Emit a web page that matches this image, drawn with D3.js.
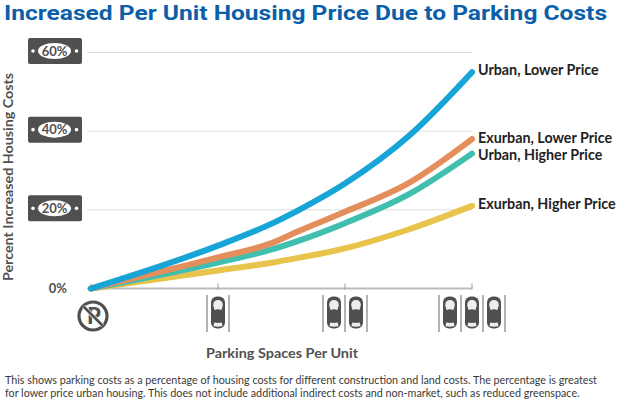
<!DOCTYPE html>
<html><head><meta charset="utf-8">
<script src="https://cdn.jsdelivr.net/npm/d3@7"></script>
<style>html,body{margin:0;padding:0;background:#fff}svg{display:block}text{font-family:Lato,sans-serif}</style>
</head><body><svg id="c" width="618" height="402"></svg>
<script>
const spaces=[0,1,1.41,1.65,2,2.5,3];
const urbanLower=[0,10.9,16.3,20.2,26.7,38.7,55];
const exurbanLower=[0,7.9,11.4,14.8,19.5,26.8,38];
const urbanHigher=[0,6.6,9.8,12.3,16.6,23.9,34.3];
const exurbanHigher=[0,4.6,6.5,7.9,10.2,15,21];
const seriesNames=["Exurban, Higher Price","Urban, Higher Price","Exurban, Lower Price","Urban, Lower Price"];
const seriesValues=[exurbanHigher,urbanHigher,exurbanLower,urbanLower];
const seriesColors=["#e9c44c","#41bfae","#e48f5b","#17a4d6"];
const yTicks=[20,40,60];
const xTicks=[0,1,2,3];
const title="Increased Per Unit Housing Price Due to Parking Costs";
const xTitle="Parking Spaces Per Unit";
const yTitle="Percent Increased Housing Costs";
const note=["This shows parking costs as a percentage of housing costs for different construction and land costs. The percentage is greatest","for lower price urban housing. This does not include additional indirect costs and non-market, such as reduced greenspace."];

const svg=d3.select("#c");
const x=d3.scaleLinear().domain([0,3]).range([91,472]);
const y=d3.scaleLinear().domain([0,60]).range([288.5,52.5]);
const dark="#505050";

function fit(sel,target){
  const n=sel.node(), fs=parseFloat(sel.attr("font-size"));
  sel.attr("font-size",fs*target/n.getComputedTextLength());
  return sel;
}

svg.append("text").attr("x",4).attr("y",19.5).attr("font-size",20.5).attr("font-weight",700)
  .attr("textLength",603).attr("lengthAdjust","spacingAndGlyphs")
  .style("font-family","Roboto,sans-serif").attr("fill","#0b5fa8").text(title);

svg.append("g").selectAll("line").data(yTicks).join("line")
  .attr("x1",87).attr("x2",x(3)).attr("y1",d=>y(d)).attr("y2",d=>y(d)).attr("stroke","#dedede").attr("stroke-width",1);

svg.append("line").attr("x1",87).attr("x2",x(3)).attr("y1",y(0)).attr("y2",y(0)).attr("stroke","#bdbdbd").attr("stroke-width",2);
svg.append("g").selectAll("line").data(xTicks).join("line")
  .attr("x1",d=>x(d)).attr("x2",d=>x(d)).attr("y1",y(0)-5).attr("y2",y(0)+1).attr("stroke","#9a9a9a").attr("stroke-width",1);

const tag=svg.append("g").selectAll("g").data(yTicks).join("g").attr("transform",d=>`translate(55,${y(d)-1.5})`);
tag.append("rect").attr("x",-27).attr("y",-13).attr("width",54).attr("height",26).attr("rx",2).attr("fill",dark);
tag.append("ellipse").attr("cx",-0.5).attr("cy",0).attr("rx",16.5).attr("ry",8).attr("fill","#fff");
tag.selectAll("circle").data([-22,21.5]).join("circle").attr("cx",d=>d).attr("cy",0).attr("r",1.8).attr("fill","#fff");
tag.append("text").attr("x",-0.5).attr("y",4.5).attr("text-anchor","middle").attr("font-size",13).attr("font-weight",700).attr("fill",dark).text(d=>d+"%");
svg.append("text").attr("x",67).attr("y",y(0)+4.5).attr("text-anchor","end").attr("font-size",13).attr("font-weight",700).attr("fill",dark).text("0%");

const line=d3.line().x((d,i)=>x(spaces[i])).y(d=>y(d)).curve(d3.curveMonotoneX);
svg.append("g").selectAll("path").data(seriesValues).join("path")
  .attr("d",line).attr("fill","none").attr("stroke",(d,i)=>seriesColors[i]).attr("stroke-width",6).attr("stroke-linecap","round").attr("stroke-linejoin","round");

svg.append("g").selectAll("text").data(seriesNames).join("text")
  .attr("x",478).attr("y",(d,i)=>y(seriesValues[i][6])+[3,6.5,3.5,3][i]).attr("font-size",14.3).attr("font-weight",700).attr("fill","#222").text(d=>d);

svg.append("text").attr("transform","translate(13,177) rotate(-90)").attr("text-anchor","middle").attr("font-size",13.5).attr("font-weight",700).attr("fill",dark).attr("textLength",208).attr("lengthAdjust","spacingAndGlyphs").text(yTitle);
svg.append("text").attr("x",282).attr("y",358).attr("text-anchor","middle").attr("font-size",13.5).attr("font-weight",700).attr("fill",dark).attr("textLength",152).attr("lengthAdjust","spacingAndGlyphs").text(xTitle);

const ns=svg.append("g").attr("transform",`translate(${x(0)+2},316)`);
ns.append("circle").attr("r",14).attr("fill","none").attr("stroke",dark).attr("stroke-width",3.2);
ns.append("text").attr("x",1).attr("y",8).attr("text-anchor","middle").attr("font-size",22).attr("font-weight",900).attr("fill",dark).text("P");
ns.append("line").attr("x1",-9.5).attr("y1",-9.5).attr("x2",9.5).attr("y2",9.5).attr("stroke","#fff").attr("stroke-width",4);
ns.append("line").attr("x1",-9.5).attr("y1",-9.5).attr("x2",9.5).attr("y2",9.5).attr("stroke",dark).attr("stroke-width",2.6);

function car(g,cx){
  const c=g.append("g").attr("transform",`translate(${cx},312.5)`);
  c.append("rect").attr("x",-7).attr("y",-16).attr("width",14).attr("height",32).attr("rx",6).attr("fill",dark);
  c.append("path").attr("d","M-4.8,-7 Q-4.8,-12.5 0,-12.5 Q4.8,-12.5 4.8,-7 L3.4,-2.5 Q0,-3.8 -3.4,-2.5Z").attr("fill","#eee");
  c.append("path").attr("d","M-4.6,13.6 Q0,15 4.6,13.6 L3.6,10 Q0,10.8 -3.6,10Z").attr("fill","#eee");
}
function bay(n,cx){
  const w=22, g=svg.append("g");
  const left=cx-n*w/2;
  d3.range(n+1).forEach(i=>g.append("line").attr("x1",left+i*w).attr("x2",left+i*w).attr("y1",295).attr("y2",332).attr("stroke","#8a8a8a").attr("stroke-width",1.3));
  d3.range(n).forEach(i=>car(g,left+(i+.5)*w));
}
bay(1,x(1));bay(2,x(2));bay(3,x(3));

svg.append("g").selectAll("text").data(note).join("text").attr("x",5).attr("y",(d,i)=>383.5+i*13)
  .attr("font-size",11).attr("fill","#3a3a3a").text(d=>d).each(function(d,i){fit(d3.select(this),i?575:592);});
</script></body></html>
